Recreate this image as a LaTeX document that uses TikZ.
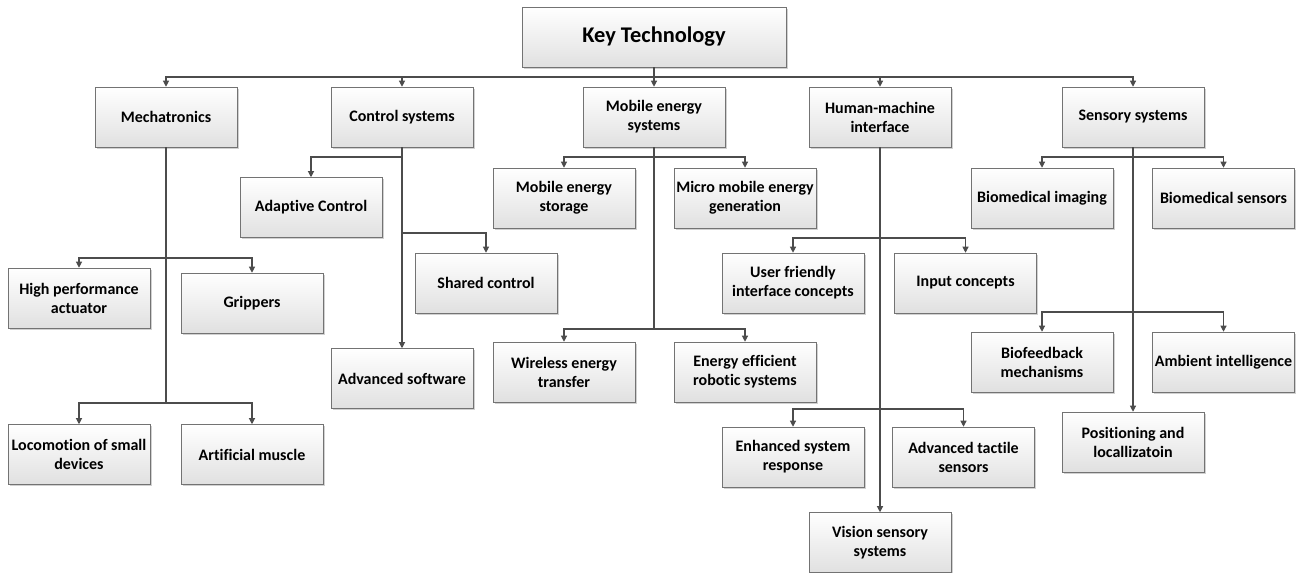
\documentclass[tikz,border=0pt]{standalone}
\usepackage{fontspec}
\setmainfont{Carlito}[Ligatures=NoCommon]
\usetikzlibrary{arrows.meta,shadows}
\begin{document}
\begin{tikzpicture}[x=0.75pt,y=-0.75pt]
 \tikzset{box/.style={draw=black!55, top color=white, bottom color=black!12,
   drop shadow={shadow xshift=1.2pt,shadow yshift=-1.2pt,opacity=0.3,fill=black!60},
   minimum width=106.5pt, minimum height=45pt, inner sep=1pt, align=center,
   font=\bfseries\fontsize{12}{14.25}\selectfont},
  link/.style={draw=black!70, line width=0.8pt},
  directed/.style={link, -{Triangle[width=4.5pt,length=4.5pt]}}}
 \useasboundingbox (0,0) rectangle (1300,573);
  \node[box, minimum width=198pt, font=\bfseries\fontsize{16.8}{20}\selectfont] (key) at (654,37) {Key Technology};
  \node[box] (mech) at (166,117) {Mechatronics};
  \node[box] (ctrl) at (402,117) {Control systems};
  \node[box] (mobile) at (654,117) {Mobile energy\\systems};
  \node[box] (hmi) at (880,117) {Human-machine\\interface};
  \node[box] (sens) at (1133,117) {Sensory systems};
  \node[box] (hpa) at (79,298) {High performance\\actuator};
  \node[box] (grip) at (252,303) {Grippers};
  \node[box] (loco) at (79,454.5) {Locomotion of small\\devices};
  \node[box] (muscle) at (252,454.5) {Artificial muscle};
  \node[box] (adapt) at (311,207.5) {Adaptive Control};
  \node[box] (shared) at (486,283) {Shared control};
  \node[box] (advsw) at (402,378.5) {Advanced software};
  \node[box] (storage) at (564,198) {Mobile energy\\storage};
  \node[box] (micro) at (745,198) {Micro mobile energy\\generation};
  \node[box] (wireless) at (564,372) {Wireless energy\\transfer};
  \node[box] (efficient) at (745,372) {Energy efficient\\robotic systems};
  \node[box] (userfr) at (793,283) {User friendly\\interface concepts};
  \node[box] (input) at (965.5,283) {Input concepts};
  \node[box] (enhanced) at (793,457) {Enhanced system\\response};
  \node[box] (tactile) at (963.5,457) {Advanced tactile\\sensors};
  \node[box] (vision) at (880,542.5) {Vision sensory\\systems};
  \node[box] (bioimg) at (1042,198) {Biomedical imaging};
  \node[box] (biosens) at (1223.5,198) {Biomedical sensors};
  \node[box] (biofeed) at (1042,362) {Biofeedback\\mechanisms};
  \node[box] (ambient) at (1223.5,362) {Ambient intelligence};
  \node[box] (pos) at (1133,442) {Positioning and\\locallizatoin};
  \coordinate (kb) at (654,77);
  \coordinate (m1) at (166,258);
  \coordinate (m2) at (166,403);
  \coordinate (c1) at (402,157);
  \coordinate (c2) at (402,233);
  \coordinate (e1) at (654,157);
  \coordinate (e2) at (654,329);
  \coordinate (h1) at (880,238);
  \coordinate (h2) at (880,409);
  \coordinate (s1) at (1133,157);
  \coordinate (s2) at (1133,312);
  \draw[directed] (key) -- (mobile);
  \draw[directed] (kb) -| (mech);
  \draw[directed] (kb) -| (ctrl);
  \draw[directed] (kb) -| (hmi);
  \draw[directed] (kb) -| (sens);
  \draw[link] (mech) -- (m2);
  \draw[directed] (m1) -| (hpa);
  \draw[directed] (m1) -| (grip);
  \draw[directed] (m2) -| (loco);
  \draw[directed] (m2) -| (muscle);
  \draw[directed] (ctrl) -- (advsw);
  \draw[directed] (c1) -| (adapt);
  \draw[directed] (c2) -| (shared);
  \draw[link] (mobile) -- (e2);
  \draw[directed] (e1) -| (storage);
  \draw[directed] (e1) -| (micro);
  \draw[directed] (e2) -| (wireless);
  \draw[directed] (e2) -| (efficient);
  \draw[directed] (hmi) -- (vision);
  \draw[directed] (h1) -| (userfr);
  \draw[directed] (h1) -| (input);
  \draw[directed] (h2) -| (enhanced);
  \draw[directed] (h2) -| (tactile);
  \draw[directed] (sens) -- (pos);
  \draw[directed] (s1) -| (bioimg);
  \draw[directed] (s1) -| (biosens);
  \draw[directed] (s2) -| (biofeed);
  \draw[directed] (s2) -| (ambient);
\end{tikzpicture}
\end{document}
